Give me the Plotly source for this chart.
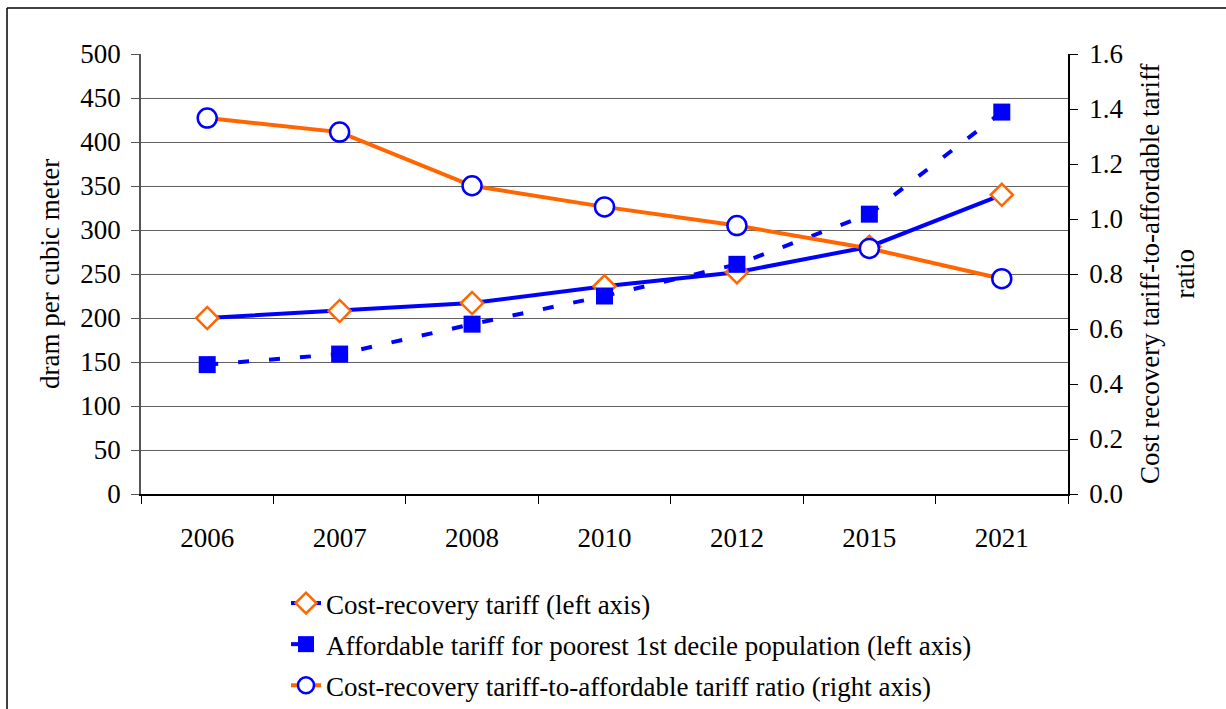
import plotly.graph_objects as go

# Data
years = ["2006", "2007", "2008", "2010", "2012", "2015", "2021"]
cost_recovery = [200, 208, 217, 236, 252, 281, 340]  # dram per m3 (left axis)
affordable = [147, 159, 193, 225, 261, 318, 434]  # dram per m3 (left axis)
ratio = [1.367, 1.316, 1.121, 1.044, 0.976, 0.893, 0.783]  # right axis

BLUE = "#0000FF"
ORANGE = "#FF6600"
FONT = "Liberation Serif"

# plot area in pixels (figure is 1226 x 709)
W, H = 1226, 709
L, R, T, B = 141, 1068, 54, 494


def px(x):
    return (x - L) / (R - L)


def py(y):
    return (B - y) / (B - T)


def main() -> None:
    fig = go.Figure()

    fig.add_trace(
        go.Scatter(
            x=years,
            y=cost_recovery,
            name="Cost-recovery tariff (left axis)",
            mode="lines+markers",
            line=dict(color=BLUE, width=4),
            marker=dict(symbol="diamond", size=17, color="white", line=dict(color=ORANGE, width=2.5)),
            legendgroup="a",
        )
    )
    fig.add_trace(
        go.Scatter(
            x=years,
            y=affordable,
            name="Affordable tariff for poorest 1st decile population (left axis)",
            mode="lines+markers",
            line=dict(color=BLUE, width=4, dash="11px,20px"),
            marker=dict(symbol="square", size=17, color=BLUE),
            legendgroup="b",
        )
    )
    fig.add_trace(
        go.Scatter(
            x=years,
            y=ratio,
            name="Cost-recovery tariff-to-affordable tariff ratio (right axis)",
            mode="lines+markers",
            line=dict(color=ORANGE, width=4),
            marker=dict(symbol="circle", size=19, color="white", line=dict(color=BLUE, width=2.5)),
            yaxis="y2",
            legendgroup="c",
        )
    )

    fig.update_layout(
        width=W,
        height=H,
        margin=dict(l=L, r=W - R, t=T, b=H - B, autoexpand=False),
        paper_bgcolor="white",
        plot_bgcolor="white",
        font=dict(family=FONT, size=27, color="black"),
        showlegend=True,
        legend=dict(
            x=px(286),
            y=py(579),
            xanchor="left",
            yanchor="top",
            tracegroupgap=3,
            font=dict(family=FONT, size=27, color="black"),
            bgcolor="rgba(0,0,0,0)",
        ),
        xaxis=dict(
            type="category",
            range=[-0.5, 6.5],
            showline=True,
            linecolor="black",
            linewidth=1.5,
            ticks="outside",
            tickson="boundaries",
            ticklen=8,
            tickcolor="black",
            ticklabelstandoff=19,
            tickfont=dict(family=FONT, size=27),
            showgrid=False,
            zeroline=False,
        ),
        yaxis=dict(
            range=[0, 500],
            dtick=50,
            showline=True,
            linecolor="#555555",
            linewidth=1.5,
            ticks="outside",
            ticklen=8,
            tickcolor="#555555",
            ticklabelstandoff=5,
            tickfont=dict(family=FONT, size=27),
            showgrid=True,
            gridcolor="#606060",
            gridwidth=1,
            zeroline=False,
        ),
        yaxis2=dict(
            range=[0, 1.6],
            dtick=0.2,
            tickformat=".1f",
            overlaying="y",
            side="right",
            showline=True,
            linecolor="black",
            linewidth=1.5,
            ticks="outside",
            ticklen=8,
            tickcolor="black",
            ticklabelstandoff=6,
            tickfont=dict(family=FONT, size=27),
            showgrid=False,
            zeroline=False,
        ),
        # inner half of the crossing tick marks on the right axis
        yaxis3=dict(
            range=[0, 1.6],
            dtick=0.2,
            overlaying="y",
            side="right",
            showline=False,
            ticks="inside",
            ticklen=8,
            tickcolor="black",
            showticklabels=False,
            showgrid=False,
            zeroline=False,
        ),
        annotations=[
            dict(
                text="dram per cubic meter",
                xref="paper",
                yref="paper",
                x=px(50),
                y=py(274),
                xanchor="center",
                yanchor="middle",
                textangle=-90,
                showarrow=False,
                font=dict(family=FONT, size=27),
            ),
            dict(
                text="Cost recovery tariff-to-affordable tariff<br>ratio",
                xref="paper",
                yref="paper",
                x=px(1167),
                y=py(274),
                xanchor="center",
                yanchor="middle",
                textangle=-90,
                showarrow=False,
                font=dict(family=FONT, size=27),
            ),
        ],
        shapes=[
            # outer chart frame (left and top edges visible)
            dict(type="line", xref="paper", yref="paper", x0=px(7), x1=px(7), y0=py(8), y1=py(720),
                 line=dict(color="black", width=1.5)),
            dict(type="line", xref="paper", yref="paper", x0=px(7), x1=px(1240), y0=py(8), y1=py(8),
                 line=dict(color="black", width=1.5)),
        ],
    )

    # remove the default page margin so the figure sits at the window's corner
    fig.write_html(
        "out.html",
        config={"displayModeBar": False},
        post_script="document.body.style.margin='0';",
    )


if __name__ == "__main__":
    main()
